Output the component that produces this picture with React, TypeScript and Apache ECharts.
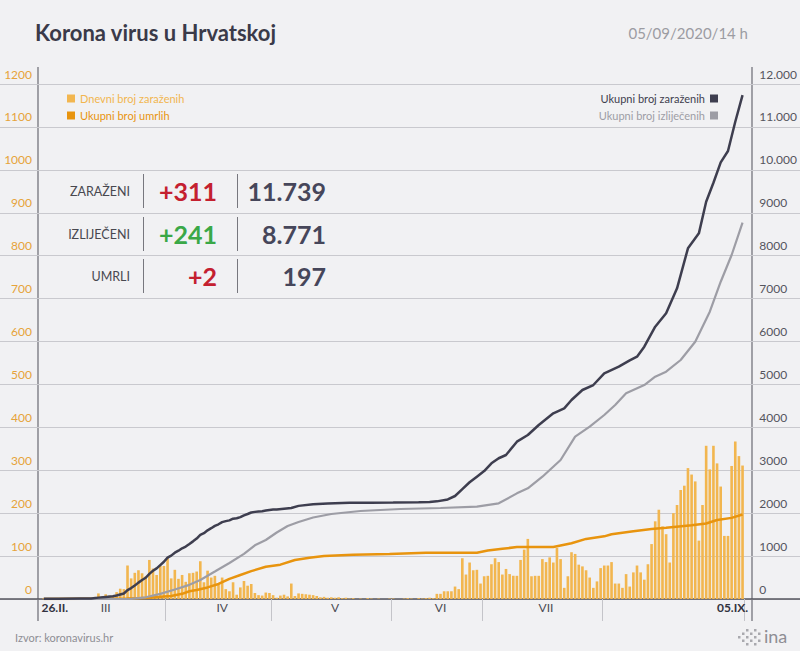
import React, { useEffect, useRef } from 'react';
import * as echarts from 'echarts';

const FONT = 'Lato, "Open Sans", sans-serif';

// 26.II.2020 - 05.IX.2020
const START = Date.UTC(2020, 1, 26);
const DAY_COUNT = 193;
const categories: string[] = Array.from({ length: DAY_COUNT }, (_, i) => {
  const d = new Date(START + i * 86400000);
  return `${d.getUTCDate()}.${d.getUTCMonth() + 1}.`;
});

// Dnevni broj zaraženih (left axis)
const dailyCases: number[] = [
  2, 0, 2, 1, 1, 2, 0, 1, 0, 1, 1, 0, 0, 2, 5, 13, 6, 11, 8, 8, 16, 24, 23,
  78, 48, 61, 67, 60, 53, 91, 71, 56, 77, 77, 96,
  48, 68, 47, 56, 40, 60, 61, 64, 88, 39, 66, 50, 54, 37, 50, 23, 18, 39, 10, 27, 42, 31, 35, 14, 9, 8, 15, 14, 9, 3,
  8, 10, 6, 36, 7, 13, 12, 11, 10, 9, 7, 4, 5, 3, 4, 3, 4, 2, 3, 1, 2, 0, 1, 0, 2, 1, 0, 1, 0, 0, 1,
  1, 0, 0, 1, 2, 1, 0, 2, 1, 2, 3, 2, 12, 12, 18, 18, 18, 29, 23,
  95, 57, 85, 67, 68, 36, 53, 54, 81, 95,
  86, 57, 70, 58, 54, 54, 91, 115, 140, 53,
  54, 54, 93, 86, 97, 85, 119, 93, 26, 53,
  109, 105, 80, 76, 67, 50, 26, 41, 72, 78,
  78, 86, 36, 36, 26, 58, 29, 62, 78, 62,
  45, 81, 128, 181, 208, 169, 151, 85, 200, 219,
  254, 264, 305, 290, 274, 136, 219, 357, 302, 357,
  316, 262, 147, 147, 310, 367, 333, 311,
];

// Ukupni broj zaraženih (right axis) [day index, value]
const totalCases: [number, number][] = [
  [0, 3], [4, 7], [10, 12], [13, 14], [15, 32], [17, 49], [19, 65], [20, 81], [21, 105], [22, 128],
  [23, 206], [24, 254], [25, 315], [26, 382], [27, 442], [28, 495], [29, 586], [30, 657], [31, 713],
  [32, 790], [33, 867], [34, 963], [35, 1011], [36, 1079], [37, 1126], [38, 1182], [39, 1222],
  [40, 1282], [41, 1343], [42, 1407], [43, 1495], [44, 1534], [45, 1600], [46, 1650], [47, 1704],
  [48, 1741], [49, 1791], [50, 1814], [51, 1832], [52, 1871], [53, 1881], [54, 1908], [55, 1950],
  [56, 1981], [57, 2016], [58, 2030], [59, 2039], [60, 2047], [61, 2062], [62, 2076], [63, 2085],
  [64, 2088], [68, 2119], [70, 2170], [74, 2210], [78, 2228], [84, 2240], [90, 2245], [96, 2247],
  [103, 2252], [106, 2262], [108, 2275], [111, 2320], [113, 2400], [115, 2560], [117, 2720],
  [119, 2850], [121, 2980], [123, 3161], [125, 3280], [127, 3355], [130, 3666], [133, 3821],
  [136, 4054], [140, 4327], [143, 4443], [145, 4637], [148, 4870], [151, 4986], [154, 5259],
  [158, 5413], [161, 5560], [163, 5646], [165, 5879], [168, 6345], [171, 6657], [174, 7239],
  [177, 8171], [180, 8520], [182, 9257], [184, 9700], [186, 10174], [188, 10438], [190, 11121],
  [192, 11739],
];

// Ukupni broj izliječenih (right axis)
const totalRecovered: [number, number][] = [
  [0, 0], [20, 0], [24, 5], [28, 40], [32, 120], [36, 220], [40, 330], [43, 443], [47, 640],
  [51, 839], [55, 1050], [58, 1250], [61, 1375], [64, 1550], [67, 1700], [70, 1794], [74, 1900],
  [79, 1980], [87, 2050], [98, 2097], [109, 2120], [119, 2151], [125, 2229], [130, 2462],
  [133, 2579], [137, 2850], [142, 3238], [146, 3782], [150, 4015], [154, 4287], [157, 4520],
  [160, 4792], [165, 4986], [168, 5180], [171, 5297], [175, 5569], [179, 5995], [183, 6694],
  [186, 7393], [189, 8015], [192, 8771],
];

// Ukupni broj umrlih (left axis)
const totalDeaths: [number, number][] = [
  [0, 0], [23, 1], [26, 2], [29, 3], [33, 6], [35, 7], [38, 12], [40, 18], [42, 21], [45, 27],
  [48, 35], [51, 47], [54, 56], [57, 65], [61, 75], [65, 80], [69, 91], [73, 96], [77, 100],
  [85, 103], [95, 105], [105, 108], [119, 108], [122, 113], [126, 117], [130, 121], [140, 121],
  [145, 130], [149, 140], [154, 146], [156, 151], [162, 158], [167, 163], [171, 166], [178, 172],
  [182, 176], [185, 184], [189, 189], [192, 197],
];

// x-axis labels
const monthLabels = ['III', 'IV', 'V', 'VI', 'VII'];
const monthLabelIdx = [17, 49, 80, 109, 138];
const monthSeparatorIdx = [34, 63, 96, 121, 154];
const firstLabel = '26.II.';
const lastLabel = '05.IX.';

// summary table
const statNames = ['ZARAŽENI', 'IZLIJEČENI', 'UMRLI'];
const statChanges = ['+311', '+241', '+2'];
const statTotals = ['11.739', '8.771', '197'];
const statColors = ['#c4202f', '#3aa847', '#c4202f'];

const C_BAR = '#f2b64f';
const C_DEATH = '#e8940e';
const C_TOTAL = '#3e3e4f';
const C_REC = '#9d9da5';

export default function App() {
  const ref = useRef<HTMLDivElement>(null);
  useEffect(() => {
    if (!ref.current) return;
    const chart = echarts.init(ref.current, undefined, { renderer: 'svg' });

    const rowY = [191, 234, 276];
    const tableGraphics: any[] = [];
    rowY.forEach((y, i) => {
      tableGraphics.push(
        { type: 'text', x: 130, y, style: { text: statNames[i], fill: '#48484f', fontSize: 12.5, fontFamily: FONT, align: 'right', verticalAlign: 'middle' } },
        { type: 'line', shape: { x1: 143.5, y1: y - 17, x2: 143.5, y2: y + 17 }, style: { stroke: '#77777e', lineWidth: 1 } },
        { type: 'text', x: 217, y, style: { text: statChanges[i], fill: statColors[i], fontSize: 25, fontFamily: FONT, fontWeight: 'bold', align: 'right', verticalAlign: 'middle' } },
        { type: 'line', shape: { x1: 237.5, y1: y - 17, x2: 237.5, y2: y + 17 }, style: { stroke: '#77777e', lineWidth: 1 } },
        { type: 'text', x: 326, y, style: { text: statTotals[i], fill: '#46465a', fontSize: 25, fontFamily: FONT, fontWeight: 'bold', align: 'right', verticalAlign: 'middle' } },
      );
    });

    const dots: any[] = [];
    const dotPattern = [
      [0, 2], [1, 1], [1, 3], [2, 0], [2, 2], [2, 4], [3, 1], [3, 3], [4, 0], [4, 2], [4, 4], [5, 1], [5, 3],
    ];
    dotPattern.forEach(([c, r]) => {
      dots.push({ type: 'rect', shape: { x: 738 + c * 4, y: 629 + r * 3.5, width: 2.5, height: 2.5 }, style: { fill: '#a9a9ae' } });
    });

    const option: any = {
      animation: false,
      backgroundColor: 'transparent',
      textStyle: { fontFamily: FONT },
      grid: [
        { left: 0, right: 0, top: 84, bottom: 52 },
        { left: 42, right: 55, top: 84, bottom: 52 },
      ],
      legend: [
        {
          orient: 'vertical', left: 62, top: 88, itemWidth: 8, itemHeight: 8, itemGap: 6, icon: 'rect',
          textStyle: { fontSize: 11, fontFamily: FONT },
          data: [
            { name: 'Dnevni broj zaraženih', textStyle: { color: C_BAR } },
            { name: 'Ukupni broj umrlih', textStyle: { color: C_DEATH } },
          ],
        },
        {
          orient: 'vertical', right: 77, top: 88, itemWidth: 8, itemHeight: 8, itemGap: 6, icon: 'rect', align: 'right',
          textStyle: { fontSize: 11, fontFamily: FONT },
          data: [
            { name: 'Ukupni broj zaraženih', textStyle: { color: C_TOTAL } },
            { name: 'Ukupni broj izliječenih', textStyle: { color: C_REC } },
          ],
        },
      ],
      xAxis: [
        {
          gridIndex: 0, type: 'value', min: 0, max: 1, position: 'bottom',
          axisLine: { show: true, onZero: false, lineStyle: { color: '#55555e', width: 1.5 } },
          axisTick: { show: false }, axisLabel: { show: false }, splitLine: { show: false },
        },
        {
          gridIndex: 1, type: 'category', data: categories, position: 'bottom',
          axisLine: { show: false },
          axisTick: {
            show: true, length: 22,
            interval: (i: number) => monthSeparatorIdx.includes(i),
            lineStyle: { color: '#c4c4c9', width: 1 },
          },
          axisLabel: {
            show: true, margin: 2, fontSize: 12, color: '#4a4a52', fontFamily: FONT,
            interval: (i: number) => i === 0 || i === DAY_COUNT - 1 || monthLabelIdx.includes(i),
            formatter: (_v: string, i: number) => {
              if (i === 0) return `{f|${firstLabel}}`;
              if (i === DAY_COUNT - 1) return `{l|${lastLabel}}`;
              const k = monthLabelIdx.indexOf(i);
              return k >= 0 ? monthLabels[k] : '';
            },
            rich: {
              f: { fontWeight: 'bold', color: '#333340', fontSize: 12, fontFamily: FONT, padding: [0, 0, 0, 22] },
              l: { fontWeight: 'bold', color: '#333340', fontSize: 12, fontFamily: FONT, padding: [0, 20, 0, 0] },
            },
          },
          splitLine: { show: false },
        },
        { gridIndex: 1, type: 'value', min: -0.5, max: DAY_COUNT - 0.5, show: false },
      ],
      yAxis: [
        {
          gridIndex: 0, type: 'value', min: 0, max: 1200, interval: 100,
          axisLine: { show: false }, axisTick: { show: false }, axisLabel: { show: false },
          splitLine: { show: true, lineStyle: { color: '#c9c9ce', width: 1 } },
        },
        {
          gridIndex: 1, type: 'value', min: 0, max: 1200, interval: 100, position: 'left',
          axisLine: { show: false }, axisTick: { show: false }, splitLine: { show: false },
          axisLabel: {
            color: '#e6a33a', fontSize: 12, margin: 10, verticalAlign: 'bottom', padding: [0, 0, 4, 0], fontFamily: FONT,
            formatter: (v: number) => String(v),
          },
        },
        {
          gridIndex: 1, type: 'value', min: 0, max: 12000, interval: 1000, position: 'right',
          axisLine: { show: false }, axisTick: { show: false }, splitLine: { show: false },
          axisLabel: {
            color: '#55555e', fontSize: 12, margin: 15, verticalAlign: 'bottom', padding: [0, 0, 4, 0], fontFamily: FONT,
            formatter: (v: number) => (v >= 10000 ? `${Math.floor(v / 1000)}.${String(v % 1000).padStart(3, '0')}` : String(v)),
          },
        },
      ],
      series: [
        {
          name: 'Dnevni broj zaraženih', type: 'bar', xAxisIndex: 1, yAxisIndex: 1,
          data: dailyCases, barCategoryGap: '28%', itemStyle: { color: C_BAR },
        },
        {
          name: 'Ukupni broj umrlih', type: 'line', xAxisIndex: 2, yAxisIndex: 1,
          data: totalDeaths, showSymbol: false, symbol: 'none', lineStyle: { color: C_DEATH, width: 2.5 }, itemStyle: { color: C_DEATH },
        },
        {
          name: 'Ukupni broj izliječenih', type: 'line', xAxisIndex: 2, yAxisIndex: 2,
          data: totalRecovered, showSymbol: false, symbol: 'none', lineStyle: { color: C_REC, width: 2.2 }, itemStyle: { color: C_REC },
        },
        {
          name: 'Ukupni broj zaraženih', type: 'line', xAxisIndex: 2, yAxisIndex: 2,
          data: totalCases, showSymbol: false, symbol: 'none', lineStyle: { color: C_TOTAL, width: 2.5 }, itemStyle: { color: C_TOTAL },
        },
      ],
      graphic: [
        { type: 'text', x: 35, y: 32, style: { text: 'Korona virus u Hrvatskoj', fill: '#3a3a49', fontSize: 22, fontWeight: 'bold', fontFamily: FONT, verticalAlign: 'middle' } },
        { type: 'text', x: 748, y: 33, style: { text: '05/09/2020/14 h', fill: '#9c9ca2', fontSize: 15, fontFamily: FONT, align: 'right', verticalAlign: 'middle' } },
        { type: 'line', shape: { x1: 38, y1: 67, x2: 38, y2: 621 }, style: { stroke: '#6a6a72', lineWidth: 1.2 } },
        { type: 'line', shape: { x1: 752, y1: 67, x2: 752, y2: 621 }, style: { stroke: '#6a6a72', lineWidth: 1.2 } },
        ...tableGraphics,
        { type: 'text', x: 15, y: 637, style: { text: 'Izvor: koronavirus.hr', fill: '#8e8e94', fontSize: 11, fontFamily: FONT, verticalAlign: 'middle' } },
        ...dots,
        { type: 'text', x: 764, y: 636, style: { text: 'ina', fill: '#8e8e94', fontSize: 18, fontFamily: FONT, verticalAlign: 'middle' } },
      ],
    };
    chart.setOption(option);
    return () => chart.dispose();
  }, []);

  return (
    <div style={{ position: 'absolute', left: 0, top: 0, width: 800, height: 651, background: '#f1f1f3' }}>
      <div ref={ref} style={{ width: 800, height: 651 }} />
    </div>
  );
}
